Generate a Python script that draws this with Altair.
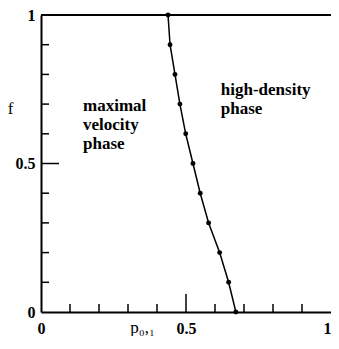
import altair as alt
import pandas as pd

# boundary points (p_{0,1}, f)
p_vals = [0.438, 0.445, 0.462, 0.479, 0.499, 0.524, 0.549, 0.578, 0.616, 0.647, 0.672]
f_vals = [1.0, 0.9, 0.8, 0.7, 0.6, 0.5, 0.4, 0.3, 0.2, 0.1, 0.0]

minor_ticks = [0.1, 0.2, 0.3, 0.4, 0.6, 0.7, 0.8, 0.9]
major_ticks = [0.5]
label_vals = [0, 0.5, 1]

ann_text = ["maximal\nvelocity\nphase", "high-density\nphase"]
ann_p = [0.145, 0.62]
ann_f = [0.677, 0.731]

df = pd.DataFrame({"p": p_vals, "f": f_vals})
minor_df = pd.DataFrame({"v": minor_ticks})
major_df = pd.DataFrame({"v": major_ticks})
top_df = pd.DataFrame({"v": [1.0]})
ann_df = pd.DataFrame({"p": ann_p, "f": ann_f, "t": ann_text})

FONT = "Liberation Serif"
W = 290
H = 297

xs = alt.Scale(domain=[0, 1], nice=False, zero=False)
ys = alt.Scale(domain=[0, 1], nice=False, zero=False)

x_axis = alt.Axis(
    values=label_vals, format="~g", ticks=False, tickSize=0, grid=False,
    domainColor="black", domainWidth=2,
    labelFont=FONT, labelFontSize=16, labelFontWeight="bold", labelColor="black",
    labelPadding=8,
    labelAlign={"condition": {"test": "datum.value == 1", "value": "right"}, "value": "center"},
    title="p₀,₁", titleFont=FONT, titleFontSize=17, titleFontWeight="normal",
    titleColor="black", titleX=101, titleY=20, titleBaseline="alphabetic", titleAlign="center",
)
y_axis = alt.Axis(
    values=label_vals, format="~g", ticks=False, tickSize=0, grid=False,
    domainColor="black", domainWidth=2,
    labelFont=FONT, labelFontSize=16, labelFontWeight="bold", labelColor="black",
    labelPadding=6,
    title="f", titleFont=FONT, titleFontSize=17, titleFontWeight="normal",
    titleColor="black", titleAngle=0, titleX=-31, titleY=93,
    titleBaseline="middle", titleAlign="center",
)

line = alt.Chart(df).mark_line(color="black", strokeWidth=1.5).encode(
    x=alt.X("p:Q", scale=xs, axis=x_axis),
    y=alt.Y("f:Q", scale=ys, axis=y_axis),
    order="f:Q",
)
pts = alt.Chart(df).mark_circle(color="black", size=24, opacity=1).encode(
    x=alt.X("p:Q", scale=xs), y=alt.Y("f:Q", scale=ys)
)

ytick_minor = alt.Chart(minor_df).mark_rule(color="black", strokeWidth=1.5).encode(
    y=alt.Y("v:Q", scale=ys), x=alt.value(0), x2=alt.value(8)
)
ytick_major = alt.Chart(major_df).mark_rule(color="black", strokeWidth=1.5).encode(
    y=alt.Y("v:Q", scale=ys), x=alt.value(0), x2=alt.value(18)
)
xtick_minor = alt.Chart(minor_df).mark_rule(color="black", strokeWidth=1.5).encode(
    x=alt.X("v:Q", scale=xs), y=alt.value(H), y2=alt.value(H - 8)
)
xtick_major = alt.Chart(major_df).mark_rule(color="black", strokeWidth=1.5).encode(
    x=alt.X("v:Q", scale=xs), y=alt.value(H), y2=alt.value(H - 18)
)
top_line = alt.Chart(top_df).mark_rule(color="black", strokeWidth=2).encode(
    y=alt.Y("v:Q", scale=ys), x=alt.value(0), x2=alt.value(W)
)

ann = alt.Chart(ann_df).mark_text(
    font=FONT, fontSize=17, fontWeight="bold", color="black",
    align="left", baseline="alphabetic", lineBreak="\n", lineHeight=19,
).encode(
    x=alt.X("p:Q", scale=xs), y=alt.Y("f:Q", scale=ys), text="t:N"
)

chart = alt.layer(
    top_line, ytick_minor, ytick_major, xtick_minor, xtick_major, line, pts, ann
).properties(
    width=W, height=H,
    autosize=alt.AutoSizeParams(type="none"),
    padding={"left": 33, "top": 7, "right": 0, "bottom": 24},
).configure_view(stroke=None).configure(background="white")

chart.save("out.html", embed_options={"renderer": "svg", "actions": False})
